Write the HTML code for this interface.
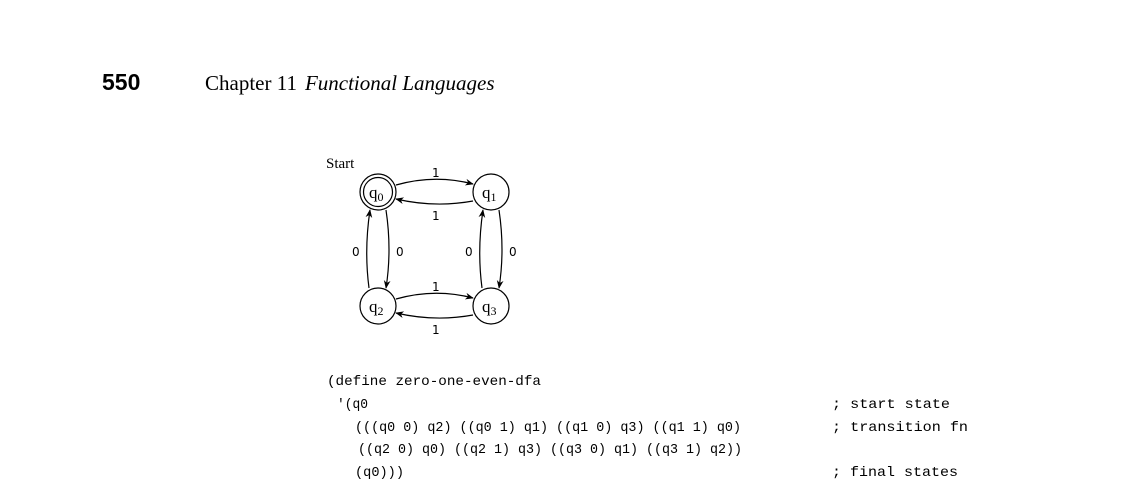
<!DOCTYPE html>
<html><head><meta charset="utf-8"><style>
html,body{margin:0;padding:0;background:#fff;width:1128px;height:494px;overflow:hidden}
.code text{white-space:pre}
</style></head><body>
<svg width="1128" height="494" viewBox="0 0 1128 494" xmlns="http://www.w3.org/2000/svg">
<defs><marker id="ah" viewBox="0 0 10 10" refX="9" refY="5" markerWidth="7" markerHeight="7" orient="auto"><path d="M0,1 L10,5 L0,9 L3,5 Z" fill="#000"/></marker></defs>
<text x="102" y="90" font-family="Liberation Sans, sans-serif" font-weight="bold" font-size="23">550</text>
<text x="205" y="90" font-family="Liberation Serif, serif" font-size="21">Chapter 11<tspan dx="8" font-style="italic">Functional Languages</tspan></text>
<g font-family="Liberation Serif, serif" fill="none" stroke="#000" stroke-width="1.2">
<text x="326" y="168" font-size="15" fill="#000" stroke="none">Start</text>
<g><circle cx="378" cy="192" r="18"/><circle cx="378" cy="192" r="14.5"/><text x="369" y="198" font-size="17" fill="#000" stroke="none">q<tspan font-size="12" dy="3">0</tspan></text></g>
<g><circle cx="491" cy="192" r="18"/><text x="482" y="198" font-size="17" fill="#000" stroke="none">q<tspan font-size="12" dy="3">1</tspan></text></g>
<g><circle cx="378" cy="306" r="18"/><text x="369" y="312" font-size="17" fill="#000" stroke="none">q<tspan font-size="12" dy="3">2</tspan></text></g>
<g><circle cx="491" cy="306" r="18"/><text x="482" y="312" font-size="17" fill="#000" stroke="none">q<tspan font-size="12" dy="3">3</tspan></text></g>
<path d="M396,185 Q435,174 473,184" marker-end="url(#ah)"/>
<path d="M473,201 Q435,208 396,199" marker-end="url(#ah)"/>
<path d="M396,299 Q435,288 473,298" marker-end="url(#ah)"/>
<path d="M473,315 Q435,322 396,313" marker-end="url(#ah)"/>
<path d="M369,288 Q364,250 370,210" marker-end="url(#ah)"/>
<path d="M386,210 Q392,250 386,288" marker-end="url(#ah)"/>
<path d="M482,288 Q477,250 483,210" marker-end="url(#ah)"/>
<path d="M499,210 Q505,250 499,288" marker-end="url(#ah)"/>
<g font-family="DejaVu Sans, sans-serif" font-size="12" fill="#000" stroke="none">
<text x="432" y="177">1</text><text x="432" y="220">1</text>
<text x="432" y="291">1</text><text x="432" y="334">1</text>
<text x="352" y="256">0</text><text x="396" y="256">0</text>
<text x="465" y="256">0</text><text x="509" y="256">0</text>
</g></g>
<g class="code" font-family="Liberation Mono, monospace" font-size="14" fill="#000">
<text x="327" y="385" textLength="214" lengthAdjust="spacingAndGlyphs">(define zero-one-even-dfa</text>
<text x="337" y="408" textLength="31" lengthAdjust="spacingAndGlyphs">'(q0</text><text x="832" y="408" textLength="118" lengthAdjust="spacingAndGlyphs">; start state</text>
<text x="355" y="431" textLength="386" lengthAdjust="spacingAndGlyphs">(((q0 0) q2) ((q0 1) q1) ((q1 0) q3) ((q1 1) q0)</text><text x="832" y="431" textLength="136" lengthAdjust="spacingAndGlyphs">; transition fn</text>
<text x="358" y="453" textLength="384" lengthAdjust="spacingAndGlyphs">((q2 0) q0) ((q2 1) q3) ((q3 0) q1) ((q3 1) q2))</text>
<text x="355" y="476" textLength="49" lengthAdjust="spacingAndGlyphs">(q0)))</text><text x="832" y="476" textLength="126" lengthAdjust="spacingAndGlyphs">; final states</text>
</g>
</svg>
</body></html>
